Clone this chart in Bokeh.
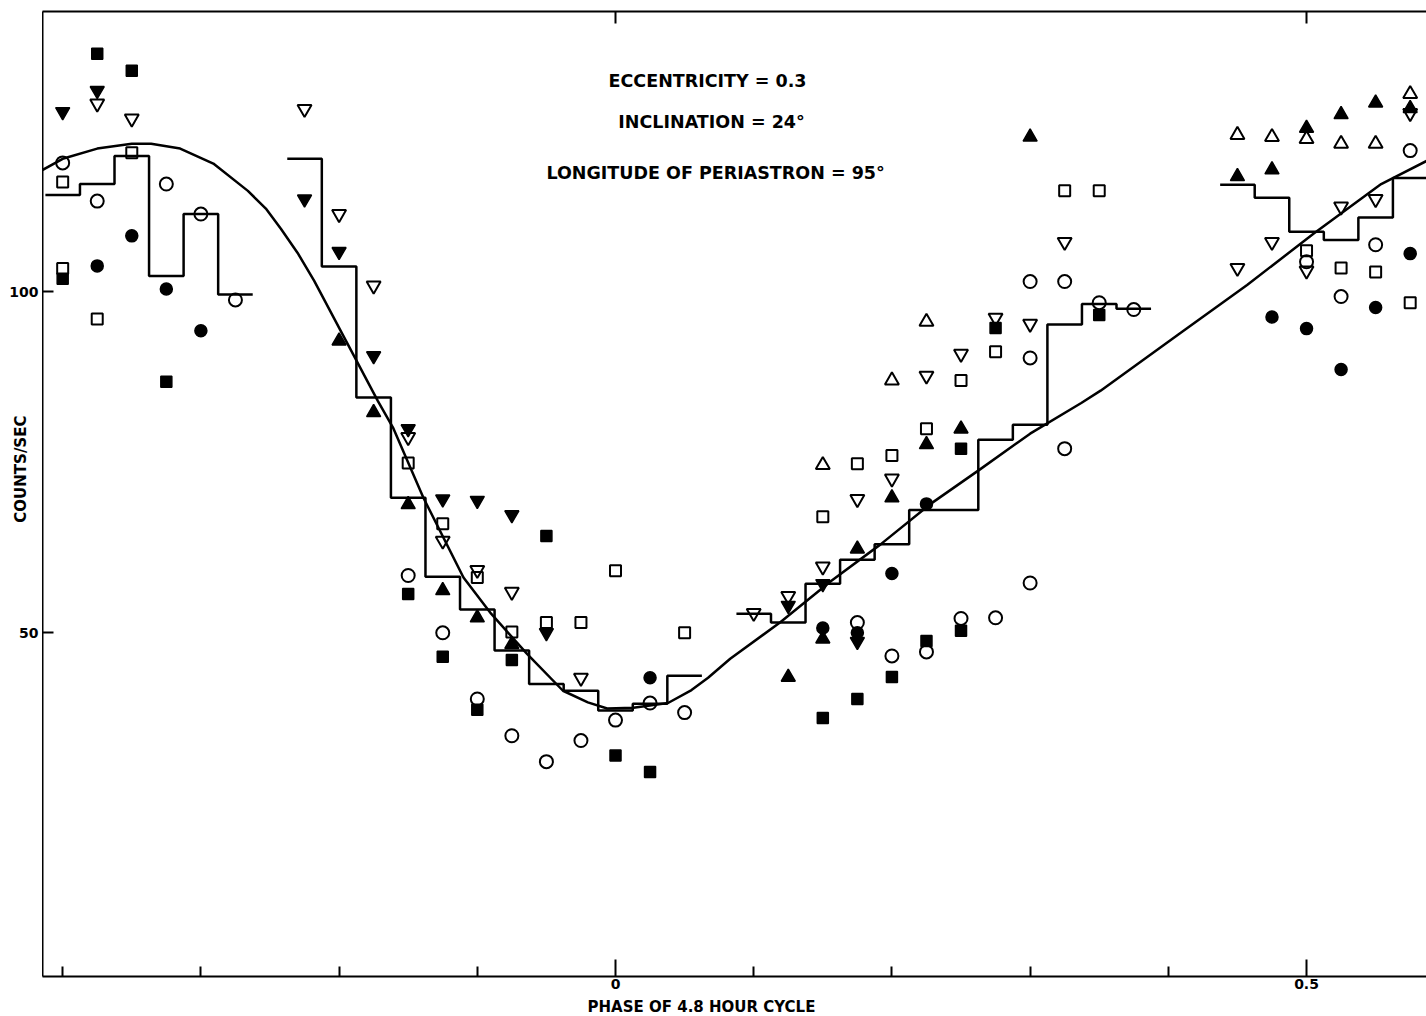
import math
from bokeh.plotting import figure
from bokeh.layouts import row, column
from bokeh.models import Range1d, FixedTicker, LinearAxis, Label
from bokeh.embed import file_html
from bokeh.resources import INLINE

# ---------------- data (phase of 4.8 h cycle, counts/sec) ----------------
BIN = 0.025  # width of a phase bin

fsq_x = [-0.400, -0.375, -0.350, -0.325, -0.150, -0.125, -0.100, -0.075, -0.050, 0.000,
         0.025, 0.150, 0.175, 0.200, 0.225, 0.250, 0.250, 0.275, 0.350]
fsq_y = [101.9, 134.9, 132.4, 86.8, 55.7, 46.5, 38.7, 46.0, 64.2, 32.0,
         29.6, 37.5, 40.3, 43.5, 48.8, 77.0, 50.3, 94.7, 96.6]

osq_x = [-0.400, -0.400, -0.375, -0.350, -0.150, -0.125, -0.100, -0.075, -0.050, -0.025,
         0.000, 0.050, 0.150, 0.175, 0.200, 0.225, 0.250, 0.275, 0.325, 0.350,
         0.500, 0.525, 0.550, 0.575]
osq_y = [116.1, 103.4, 96.0, 120.4, 74.9, 66.0, 58.1, 50.1, 51.5, 51.5,
         59.1, 50.0, 67.0, 74.8, 76.0, 79.9, 87.0, 91.2, 114.8, 114.8,
         106.0, 103.5, 102.9, 98.4]

fdt_x = [-0.400, -0.375, -0.225, -0.200, -0.175, -0.150, -0.125, -0.100, -0.075, -0.050,
         0.125, 0.150, 0.175]
fdt_y = [126.4, 129.5, 113.6, 105.9, 90.6, 79.9, 69.6, 69.4, 67.3, 50.0,
         54.0, 57.2, 48.7]

odt_x = [-0.375, -0.350, -0.225, -0.200, -0.175, -0.150, -0.125, -0.100, -0.075, -0.025,
         0.100, 0.125, 0.150, 0.175, 0.200, 0.225, 0.250, 0.275, 0.300, 0.325,
         0.450, 0.475, 0.500, 0.525, 0.550, 0.575]
odt_y = [127.6, 125.4, 126.8, 111.4, 100.9, 78.7, 63.5, 59.2, 56.0, 43.4,
         52.9, 55.4, 59.7, 69.6, 72.6, 87.7, 90.9, 96.2, 95.3, 107.3,
         103.5, 107.3, 103.1, 112.5, 113.6, 126.2]

fut_x = [-0.200, -0.175, -0.150, -0.125, -0.100, -0.075, 0.125, 0.150, 0.175, 0.200,
         0.225, 0.250, 0.300, 0.450, 0.475, 0.500, 0.525, 0.550, 0.575]
fut_y = [92.8, 82.3, 68.8, 56.2, 52.2, 48.3, 43.5, 49.1, 62.3, 69.8,
         77.6, 79.9, 122.7, 116.9, 117.9, 124.0, 126.0, 127.7, 126.9]

out_x = [0.150, 0.200, 0.225, 0.450, 0.475, 0.500, 0.525, 0.550, 0.575]
out_y = [74.6, 87.0, 95.6, 123.0, 122.7, 122.4, 121.7, 121.7, 129.0]

oc_x = [-0.400, -0.375, -0.325, -0.300, -0.275, -0.150, -0.125, -0.100, -0.075, -0.050,
        -0.025, 0.000, 0.025, 0.050, 0.175, 0.200, 0.225, 0.250, 0.275, 0.300,
        0.300, 0.300, 0.325, 0.325, 0.350, 0.375, 0.500, 0.525, 0.550, 0.575]
oc_y = [118.9, 113.3, 115.8, 111.4, 98.8, 58.4, 50.0, 40.3, 34.9, 31.1,
        34.2, 37.2, 39.7, 38.3, 51.5, 46.6, 47.2, 52.1, 52.2, 101.5,
        90.3, 57.3, 101.5, 77.0, 98.4, 97.4, 104.4, 99.3, 106.9, 120.7]

fc_x = [-0.375, -0.350, -0.325, -0.300, 0.025, 0.150, 0.175, 0.200, 0.225,
        0.475, 0.500, 0.525, 0.550, 0.575]
fc_y = [103.8, 108.2, 100.4, 94.3, 43.4, 50.7, 50.0, 58.7, 68.9,
        96.3, 94.6, 88.6, 97.7, 105.6]

# binned averages (histograms), bin centres and levels
h1_x = [-0.400, -0.375, -0.350, -0.325, -0.300, -0.275]
h1_y = [114.2, 115.8, 119.9, 102.3, 111.4, 99.6]
h2_x = [-0.225, -0.200, -0.175, -0.150, -0.125, -0.100, -0.075, -0.050, -0.025, 0.000, 0.025, 0.050]
h2_y = [119.5, 103.7, 84.5, 69.8, 58.2, 53.4, 47.4, 42.5, 41.5, 38.6, 39.6, 43.7]
h3_x = [0.100, 0.125, 0.150, 0.175, 0.200, 0.225, 0.250, 0.275, 0.300, 0.325, 0.350, 0.375]
h3_y = [52.8, 51.5, 57.2, 60.7, 63.0, 68.0, 68.0, 78.3, 80.5, 95.2, 98.2, 97.5]
h4_x = [0.450, 0.475, 0.500, 0.525, 0.550, 0.575]
h4_y = [115.7, 113.8, 108.8, 107.6, 110.9, 116.7]

# model light curve (e = 0.3, i = 24 deg, w = 95 deg)
model_x = [-0.416, -0.400, -0.375, -0.350, -0.336, -0.315, -0.291, -0.266, -0.253, -0.242,
           -0.230, -0.218, -0.190, -0.172, -0.161, -0.139, -0.110, -0.090, -0.064, -0.038,
           -0.020, -0.006, 0.013, 0.038, 0.055, 0.067, 0.083, 0.119, 0.156, 0.192,
           0.228, 0.264, 0.300, 0.337, 0.351, 0.409, 0.457, 0.505, 0.554, 0.587]
model_y = [117.7, 119.5, 121.0, 121.7, 121.7, 121.0, 118.8, 114.8, 112.2, 109.2,
           105.7, 101.6, 90.9, 84.0, 80.1, 69.8, 58.1, 52.8, 46.9, 41.5,
           39.8, 38.9, 39.0, 39.7, 41.6, 43.4, 46.2, 51.5, 57.6, 63.0,
           68.9, 74.0, 79.2, 83.7, 85.5, 94.0, 101.0, 108.5, 115.8, 119.2]

x_ticks_major = [0, 0.5]
x_ticks_minor = [-0.4, -0.3, -0.2, -0.1, 0.1, 0.2, 0.3, 0.4]
y_ticks = [50, 100]
y_tick_labels = ["50", "100"]

FONT = "DejaVu Sans"
TOP_H = 996      # height of the upper row (left strip + main plot)
LEFT_W = 42      # width of the strip carrying the y tick labels and y title
BOT_H = 1016 - TOP_H
MB_TOP, MB_BOT = 11, 20

yr = Range1d(-0.4, 141.1)

p = figure(width=1426 - LEFT_W, height=TOP_H,
           x_range=Range1d(-0.4146, 0.5868), y_range=yr,
           output_backend="svg", toolbar_location=None,
           x_axis_type=None, y_axis_type=None,
           min_border_left=0, min_border_right=0,
           min_border_top=MB_TOP, min_border_bottom=MB_BOT)
p.outline_line_color = None
p.background_fill_color = "white"
p.border_fill_color = "white"


def axis_style(ax):
    ax.axis_line_width = 2
    ax.axis_line_color = "black"
    ax.major_tick_line_width = 2
    ax.minor_tick_line_width = 2
    ax.major_label_text_font = FONT
    ax.major_label_text_font_style = "bold"
    ax.major_label_text_font_size = "14px"
    ax.major_label_text_color = "black"


xb = LinearAxis(ticker=FixedTicker(ticks=x_ticks_major, minor_ticks=x_ticks_minor),
                major_label_overrides={0: "0", 0.5: "0.5"})
axis_style(xb)
xb.major_tick_in = 17
xb.major_tick_out = 0
xb.minor_tick_in = 10
xb.minor_tick_out = 0
xb.major_label_standoff = 2
p.add_layout(xb, "below")

# left axis: line and inward ticks; its labels live in the left strip
yl = LinearAxis(ticker=FixedTicker(ticks=y_ticks, minor_ticks=[]),
                major_label_overrides={t: "" for t in y_ticks})
axis_style(yl)
yl.major_tick_in = 11
yl.major_tick_out = 0
yl.minor_tick_line_color = None
yl.major_label_standoff = 0
p.add_layout(yl, "left")

xt = LinearAxis(ticker=FixedTicker(ticks=x_ticks_major, minor_ticks=[]),
                major_label_overrides={0: "", 0.5: ""})
axis_style(xt)
xt.major_tick_in = 12
xt.major_tick_out = 0
xt.minor_tick_line_color = None
xt.major_label_standoff = 0
p.add_layout(xt, "above")


def step_path(cx, cy, w):
    xs, ys = [], []
    for c, v in zip(cx, cy):
        xs += [c - w / 2, c + w / 2]
        ys += [v, v]
    return xs, ys


for hx, hy in [(h1_x, h1_y), (h2_x, h2_y), (h3_x, h3_y), (h4_x, h4_y)]:
    sx, sy = step_path(hx, hy, BIN)
    p.line(sx, sy, line_color="black", line_width=2.5)

p.line(model_x, model_y, line_color="black", line_width=2.5, line_join="round")

S = 12
p.scatter(fsq_x, fsq_y, marker="square", size=S - 1, fill_color="black", line_color="black", line_width=1.5)
p.scatter(osq_x, osq_y, marker="square", size=S - 1, fill_color=None, line_color="black", line_width=2)
p.scatter(fdt_x, fdt_y, marker="inverted_triangle", size=S + 2, fill_color="black", line_color="black", line_width=1.5)
p.scatter(odt_x, odt_y, marker="inverted_triangle", size=S + 2, fill_color=None, line_color="black", line_width=2)
p.scatter(fut_x, fut_y, marker="triangle", size=S + 2, fill_color="black", line_color="black", line_width=1.5)
p.scatter(out_x, out_y, marker="triangle", size=S + 2, fill_color=None, line_color="black", line_width=2)
p.scatter(oc_x, oc_y, marker="circle", size=S + 1, fill_color=None, line_color="black", line_width=2)
p.scatter(fc_x, fc_y, marker="circle", size=S, fill_color="black", line_color="black", line_width=1.5)

for txt, tx, ty in [("ECCENTRICITY = 0.3", 0.0666, 130.9),
                    ("INCLINATION = 24°", 0.0695, 124.9),
                    ("LONGITUDE OF PERIASTRON = 95°", 0.0724, 117.4)]:
    p.add_layout(Label(x=tx, y=ty, text=txt, text_align="center", text_baseline="middle",
                       text_font=FONT, text_font_style="bold", text_font_size="17.5px",
                       text_color="black"))

# ---- left strip: y tick labels (on the shared y scale) and the y title ----
ls = figure(width=LEFT_W, height=TOP_H, x_range=Range1d(0, LEFT_W), y_range=yr,
            output_backend="svg", toolbar_location=None,
            x_axis_type=None, y_axis_type=None,
            min_border_left=0, min_border_right=0,
            min_border_top=MB_TOP, min_border_bottom=MB_BOT)
ls.outline_line_color = None
ls.background_fill_color = "white"
ls.border_fill_color = "white"
for t, lab in zip(y_ticks, y_tick_labels):
    ls.add_layout(Label(x=LEFT_W - 4, y=t, text=lab, text_align="right", text_baseline="middle",
                        text_font=FONT, text_font_style="bold", text_font_size="14px",
                        text_color="black"))
ls.add_layout(Label(x=20, y=74.0, text="COUNTS/SEC", angle=math.pi / 2,
                    text_align="center", text_baseline="middle",
                    text_font=FONT, text_font_style="bold", text_font_size="15px",
                    text_color="black"))

# ---- bottom strip: x title ----
bs = figure(width=1426, height=BOT_H, x_range=Range1d(0, 1426), y_range=Range1d(BOT_H, 0),
            output_backend="svg", toolbar_location=None,
            x_axis_type=None, y_axis_type=None,
            min_border_left=0, min_border_right=0, min_border_top=0, min_border_bottom=0)
bs.outline_line_color = None
bs.background_fill_color = "white"
bs.border_fill_color = "white"
bs.add_layout(Label(x=701, y=BOT_H / 2, text="PHASE OF 4.8 HOUR CYCLE",
                    text_align="center", text_baseline="middle",
                    text_font=FONT, text_font_style="bold", text_font_size="15px",
                    text_color="black"))

layout = column(row(ls, p, spacing=0), bs, spacing=0)
open("out.html", "w").write(file_html(layout, INLINE))
